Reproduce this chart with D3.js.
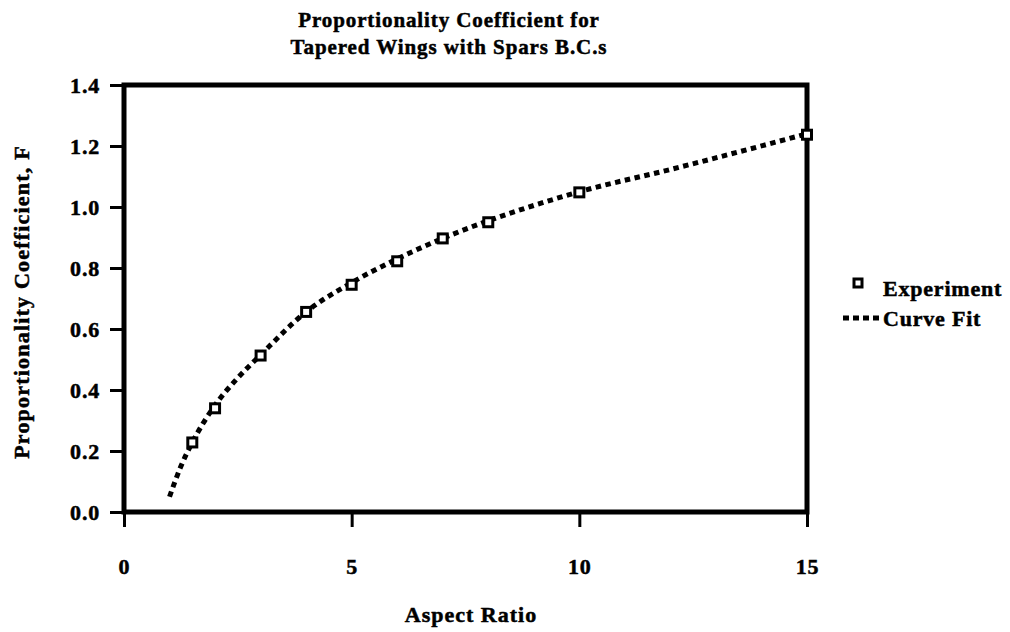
<!DOCTYPE html>
<html>
<head>
<meta charset="utf-8">
<script src="https://cdn.jsdelivr.net/npm/d3@7"></script>
<style>
  html, body { margin: 0; padding: 0; background: #fff; }
  svg { display: block; }
  text { font-family: "Liberation Serif", "Times New Roman", serif; font-weight: bold; fill: #000;
         stroke: #000; stroke-width: 0.5px; }
</style>
</head>
<body>
<svg id="chart" width="1010" height="632"></svg>
<script>
// Measured proportionality coefficient F against aspect ratio
const expAspect = [1.5, 2, 3, 4, 5, 6, 7, 8, 10, 15];
const expF      = [0.228, 0.340, 0.513, 0.656, 0.745, 0.822, 0.897, 0.950, 1.048, 1.237];

// Fitted curve, sampled along the aspect-ratio range
const fitAspect = [1, 1.25, 1.5, 2, 2.5, 3, 4, 5, 6, 7, 8, 9, 10, 12, 15];
const fitF      = [0.050, 0.150, 0.228, 0.350, 0.440, 0.515, 0.656, 0.752, 0.830, 0.897, 0.955, 1.005, 1.050, 1.123, 1.240];

const xTicks = [0, 5, 10, 15];
const yTicks = [0.0, 0.2, 0.4, 0.6, 0.8, 1.0, 1.2, 1.4];

const titleLines = ["Proportionality Coefficient for", "Tapered Wings with Spars B.C.s"];
const xTitle = "Aspect Ratio";
const yTitle = "Proportionality Coefficient, F";
const legendLabels = ["Experiment", "Curve Fit"];

const svg = d3.select("#chart");
const plot = { left: 124, right: 807, top: 85, bottom: 512 };

const x = d3.scaleLinear().domain([0, 15]).range([plot.left, plot.right]);
const y = d3.scaleLinear().domain([0, 1.4]).range([plot.bottom, plot.top]);

// Title
svg.append("g").selectAll("text").data(titleLines).join("text")
  .attr("x", 449).attr("y", (d, i) => 27 + i * 27)
  .attr("text-anchor", "middle").style("font-size", "21px").style("letter-spacing", "0.9px")
  .text(d => d);

// Axes
const yAxis = d3.axisLeft(y).tickValues(yTicks).tickFormat(d3.format(".1f"))
  .tickSize(14).tickPadding(10);
const gy = svg.append("g").attr("transform", `translate(${plot.left},0)`).call(yAxis);
gy.select(".domain").remove();
gy.selectAll(".tick line").attr("stroke", "#000").attr("stroke-width", 3);
gy.selectAll(".tick text").style("font-size", "22px").attr("dy", "0.36em")
  .style("font-family", "'Liberation Serif', serif").style("font-weight", "bold")
  .style("letter-spacing", "0.8px");

const xAxis = d3.axisBottom(x).tickValues(xTicks).tickFormat(d3.format("d"))
  .tickSize(15).tickPadding(31);
const gx = svg.append("g").attr("transform", `translate(0,${plot.bottom})`).call(xAxis);
gx.select(".domain").remove();
gx.selectAll(".tick line").attr("stroke", "#000").attr("stroke-width", 3);
gx.selectAll(".tick text").style("font-size", "22px")
  .style("font-family", "'Liberation Serif', serif").style("font-weight", "bold")
  .style("letter-spacing", "0.8px");

// Plot frame
svg.append("rect")
  .attr("x", plot.left).attr("y", plot.top)
  .attr("width", plot.right - plot.left).attr("height", plot.bottom - plot.top)
  .attr("fill", "none").attr("stroke", "#000").attr("stroke-width", 5);

// Axis titles
svg.append("text").attr("x", 471).attr("y", 622)
  .attr("text-anchor", "middle").style("font-size", "22px").style("letter-spacing", "1px")
  .text(xTitle);
svg.append("text")
  .attr("transform", `translate(29,302) rotate(-90)`)
  .attr("text-anchor", "middle").style("font-size", "22px").style("letter-spacing", "1.2px")
  .text(yTitle);

// Curve fit (dotted)
const fitData = fitAspect.map((a, i) => [a, fitF[i]]);
const line = d3.line().x(d => x(d[0])).y(d => y(d[1])).curve(d3.curveMonotoneX);
svg.append("path").datum(fitData)
  .attr("d", line).attr("fill", "none").attr("stroke", "#000")
  .attr("stroke-width", 5).attr("stroke-dasharray", "5.5,4.5");

// Experimental points (open squares)
const expData = expAspect.map((a, i) => [a, expF[i]]);
svg.append("g").selectAll("rect").data(expData).join("rect")
  .attr("x", d => x(d[0]) - 4.5).attr("y", d => y(d[1]) - 4.5)
  .attr("width", 9).attr("height", 9)
  .attr("fill", "#fff").attr("stroke", "#000").attr("stroke-width", 3);

// Legend
const lg = svg.append("g");
lg.append("rect").attr("x", 854).attr("y", 279).attr("width", 8).attr("height", 8)
  .attr("fill", "#fff").attr("stroke", "#000").attr("stroke-width", 3);
lg.append("path").attr("d", "M843,318 L880,318")
  .attr("stroke", "#000").attr("stroke-width", 5).attr("stroke-dasharray", "6,4");
lg.selectAll("text").data(legendLabels).join("text")
  .attr("x", 883).attr("y", (d, i) => 296 + i * 30)
  .style("font-size", "22px").style("letter-spacing", "0.8px").text(d => d);
</script>
</body>
</html>
